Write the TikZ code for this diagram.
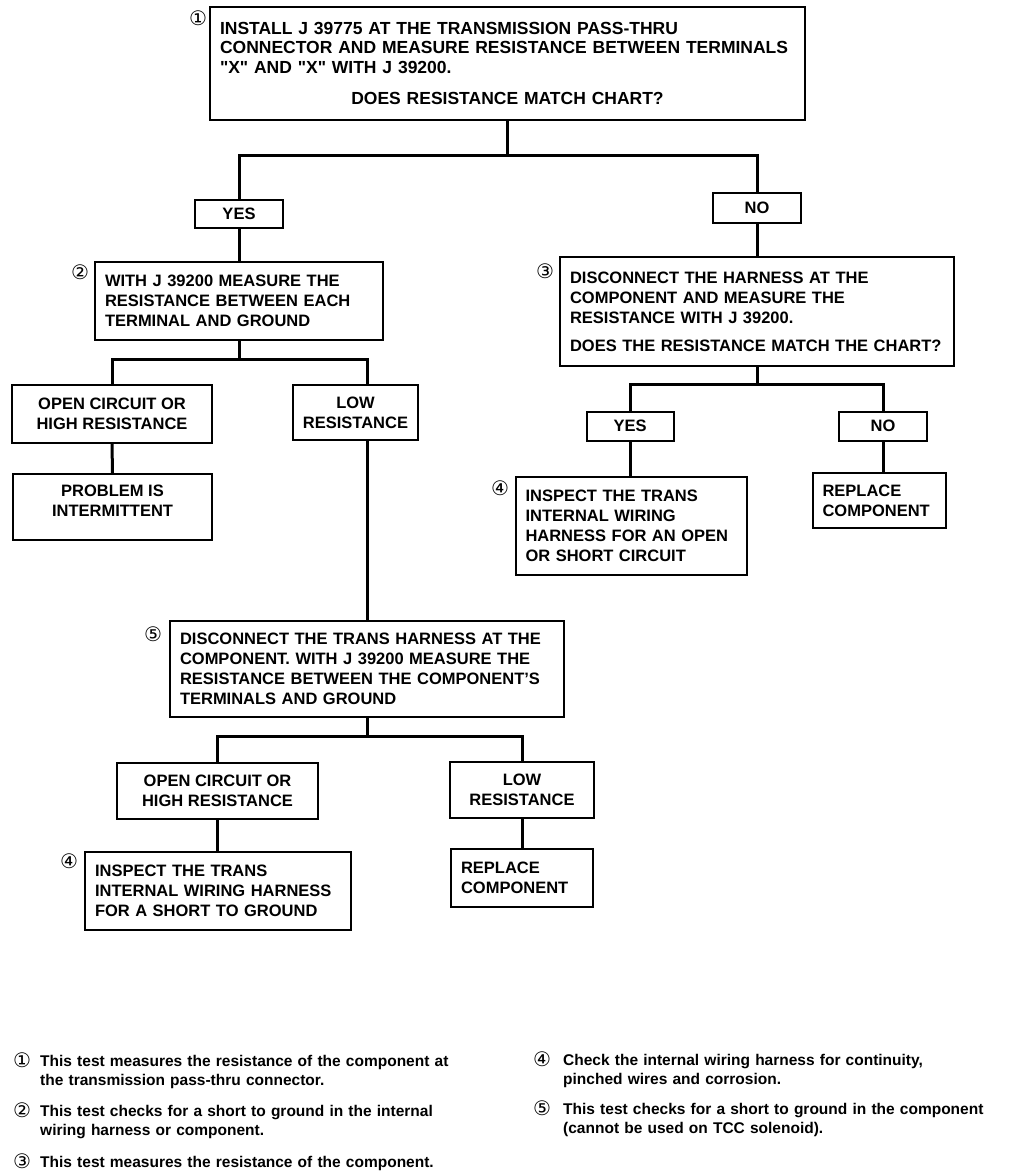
\documentclass[tikz,border=0pt]{standalone}
\usepackage{fontspec}
\setmainfont{Liberation Sans}
\newfontfamily\circfont{DejaVu Sans}
\usetikzlibrary{positioning}

\tikzset{
  box/.style={draw, line width=2pt, inner xsep=10pt, inner ysep=4pt,
    font=\bfseries\fontsize{16.5}{20}\selectfont},
  lbox/.style={box, align=left},
  cbox/.style={box, align=center},
  link/.style={line width=3pt},
  num/.style={inner sep=0pt, font=\circfont\fontsize{20}{20}\selectfont},
  note/.style={anchor=base west, align=left, inner sep=0pt, text width=470pt,
    font=\bfseries\fontsize{15.5}{19.5}\selectfont}
}

\begin{document}
\begin{tikzpicture}[x=1pt,y=-1pt]
\useasboundingbox (0,0) rectangle (1024,1174);

% the test boxes
\node[lbox, text width=575pt, minimum height=113pt,
  font=\bfseries\fontsize{17.5}{19.5}\selectfont] (b1) at (507.5,63.5)
  {INSTALL J 39775 AT THE TRANSMISSION PASS-THRU\\
   CONNECTOR AND MEASURE RESISTANCE BETWEEN TERMINALS\\
   \textquotedbl X\textquotedbl\ AND \textquotedbl X\textquotedbl\ WITH J 39200.\\[12pt]
   \centerline{DOES RESISTANCE MATCH CHART?}};
\node[cbox, minimum width=88pt, minimum height=28pt] (yes1) at (239,214) {YES};
\node[cbox, minimum width=88pt, minimum height=30pt] (no1) at (757,208) {NO};
\node[lbox, text width=268pt, minimum height=78pt] (b2) at (239,301)
  {WITH J 39200 MEASURE THE\\
   RESISTANCE BETWEEN EACH\\
   TERMINAL AND GROUND};
\node[lbox, text width=374pt, minimum height=109pt] (b3) at (757,311.5)
  {DISCONNECT THE HARNESS AT THE\\
   COMPONENT AND MEASURE THE\\
   RESISTANCE WITH J 39200.\\[8pt]
   DOES THE RESISTANCE MATCH THE CHART?};
\node[cbox, minimum width=200pt, minimum height=58pt] (oc1) at (112,414)
  {OPEN CIRCUIT OR\\ HIGH RESISTANCE};
\node[cbox, minimum width=125pt, minimum height=55pt, inner xsep=5pt] (lr1) at (355.5,412.5)
  {LOW\\ RESISTANCE};
\node[cbox, minimum width=199pt, minimum height=66pt] (pi1) at (112.5,507)
  {PROBLEM IS\\ INTERMITTENT\\[-8pt]~};
\node[cbox, minimum width=87pt, minimum height=29pt] (yes3) at (630,426) {YES};
\node[cbox, minimum width=88pt, minimum height=29pt] (no3) at (883,426) {NO};
\node[lbox, text width=211pt, minimum height=98pt] (b4a) at (631,526)
  {INSPECT THE TRANS\\
   INTERNAL WIRING\\
   HARNESS FOR AN OPEN\\
   OR SHORT CIRCUIT};
\node[lbox, text width=113pt, minimum height=55pt] (rep1) at (879,500.5)
  {REPLACE\\ COMPONENT};
\node[lbox, text width=374pt, minimum height=96pt] (b5) at (367,669)
  {DISCONNECT THE TRANS HARNESS AT THE\\
   COMPONENT. WITH J 39200 MEASURE THE\\
   RESISTANCE BETWEEN THE COMPONENT'S\\
   TERMINALS AND GROUND};
\node[cbox, minimum width=201pt, minimum height=56pt] (oc2) at (217.5,791)
  {OPEN CIRCUIT OR\\ HIGH RESISTANCE};
\node[cbox, minimum width=144pt, minimum height=56pt] (lr2) at (522,790)
  {LOW\\ RESISTANCE};
\node[lbox, text width=246pt, minimum height=78pt] (b4b) at (218,891)
  {INSPECT THE TRANS\\
   INTERNAL WIRING HARNESS\\
   FOR A SHORT TO GROUND};
\node[lbox, text width=122pt, minimum height=58pt] (rep2) at (522,878)
  {REPLACE\\ COMPONENT};

% step numbers
\node[num] (c1) at (198,18) {①};
\node[num] (c2) at (80,272) {②};
\node[num] (c3) at (545,271) {③};
\node[num] (c4a) at (500,488) {④};
\node[num] (c5) at (153,634) {⑤};
\node[num] (c4b) at (69,861) {④};

% connecting lines
\draw[link] (b1.south) -- ++(0,35) coordinate (j1);
\draw[link] (yes1.north) |- (j1) -| (no1.north);
\draw[link] (yes1.south) -- (b2.north);
\draw[link] (no1.south) -- (b3.north);
\draw[link] (b2.south) -- ++(0,18) coordinate (j2);
\draw[link] (oc1.north) |- (j2) -| (b5.north |- lr1.north);
\draw[link] (oc1.south) -- (pi1.north);
\draw[link] (b5.north |- lr1.south) -- (b5.north);
\draw[link] (b3.south) -- ++(0,17) coordinate (j4);
\draw[link] (yes3.north) |- (j4) -| (no3.north);
\draw[link] (yes3.south) -- (b4a.north -| yes3.south);
\draw[link] (no3.south) -- (rep1.north -| no3.south);
\draw[link] (b5.south) -- ++(0,18) coordinate (j3);
\draw[link] (oc2.north) |- (j3) -| (lr2.north);
\draw[link] (oc2.south) -- (b4b.north -| oc2.south);
\draw[link] (lr2.south) -- (rep2.north);

% notes
\node[num] (m1) at (22,1060) {①};
\node[note] (t1) at (40,1066) {This test measures the resistance of the component at\\
  the transmission pass-thru connector.};
\node[num] (m2) at (22,1110) {②};
\node[note] (t2) at (40,1116) {This test checks for a short to ground in the internal\\
  wiring harness or component.};
\node[num] (m3) at (22,1161) {③};
\node[note] (t3) at (40,1167) {This test measures the resistance of the component.};
\node[num] (m4) at (542,1059) {④};
\node[note] (t4) at (563,1065) {Check the internal wiring harness for continuity,\\
  pinched wires and corrosion.};
\node[num] (m5) at (542,1108) {⑤};
\node[note] (t5) at (563,1114) {This test checks for a short to ground in the component\\
  (cannot be used on TCC solenoid).};
\end{tikzpicture}
\end{document}
